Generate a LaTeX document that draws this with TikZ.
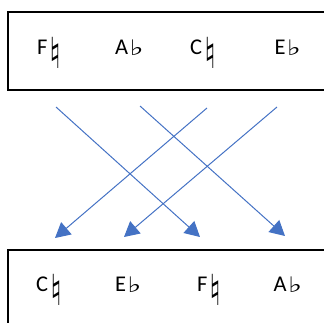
\documentclass[tikz,border=0pt]{standalone}
\usepackage{fontspec}
\setmainfont{Carlito}
\newfontfamily\symfont{DejaVu Sans}
\usetikzlibrary{arrows.meta}
\definecolor{arrowblue}{HTML}{4472C4}
\newcommand{\nat}{\hspace{2pt}\raisebox{-14pt}{\scalebox{1.1}[1.4]{\symfont\fontsize{30.5}{32}\selectfont ♮}}}
\newcommand{\flt}{\hspace{1.3pt}\raisebox{-1pt}{\scalebox{1.4}[1]{\symfont\fontsize{21.4}{24}\selectfont ♭}}}
\newcommand{\notefont}{\fontsize{22.5pt}{26pt}\selectfont}
\tikzset{
  box/.style={draw=black, line width=2pt},
  note/.style={anchor=base west, inner sep=0pt, font=\notefont},
  link/.style={draw=arrowblue, line width=1pt, -{Triangle[length=15pt,width=16pt]}}
}
\begin{document}
\begin{tikzpicture}[x=1pt,y=-1pt]
\useasboundingbox (0,0) rectangle (324,322);
\clip (0,0) rectangle (324,322);
\draw[box] (7.8,12.3) rectangle (340,89.5);
\draw[box] (7.8,249.7) rectangle (340,340);
% top row
\node[note] (t1) at (37,54.8) {F\nat};
\node[note] (t2) at (115,54.8) {A\flt};
\node[note] (t3) at (190,54.8) {C\nat};
\node[note] (t4) at (274.5,54.8) {E\flt};
% bottom row
\node[note] (b1) at (36,291.8) {C\nat};
\node[note] (b2) at (115,291.8) {E\flt};
\node[note] (b3) at (197,291.8) {F\nat};
\node[note] (b4) at (273.5,291.8) {A\flt};
% arrows
\coordinate (s1) at (56,107);  \coordinate (e1) at (200,237);
\coordinate (s2) at (140,106); \coordinate (e2) at (285,236);
\coordinate (s3) at (207,108); \coordinate (e3) at (55,238);
\coordinate (s4) at (277,107); \coordinate (e4) at (124,237);
\draw[link] (s1) -- (e1);
\draw[link] (s2) -- (e2);
\draw[link] (s3) -- (e3);
\draw[link] (s4) -- (e4);
\end{tikzpicture}
\end{document}
